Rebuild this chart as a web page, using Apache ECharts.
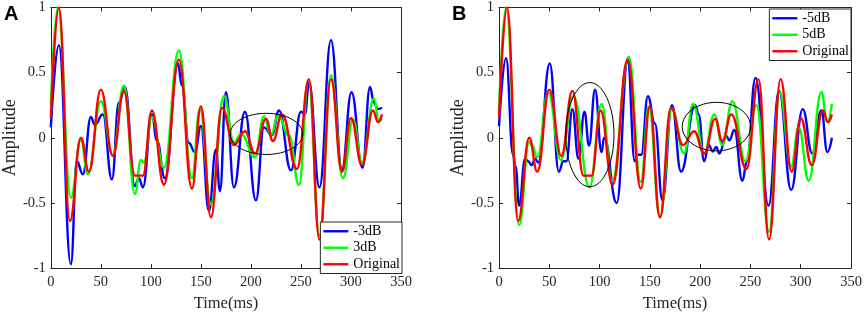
<!DOCTYPE html>
<html>
<head>
<meta charset="utf-8">
<script src="https://cdn.jsdelivr.net/npm/echarts@6/dist/echarts.min.js"></script>
<style>
html, body { margin: 0; padding: 0; background: #fff; }
#main { width: 865px; height: 317px; }
</style>
</head>
<body>
<div id="main"></div>
<script>
// [time(ms), amplitude], peaks and troughs
var original = [[0,0.15],[8,1.0],[19,-0.64],[30,0.0],[38,-0.26],[50,0.37],[62,-0.14],[73,0.36],[84,-0.29],[92,-0.29],[101,0.21],[113,-0.36],[128,0.60],[141,-0.39],[150,0.24],[160,-0.61],[171,0.23],[183,-0.055],[194,0.05],[204,-0.12],[215,0.145],[222,-0.025],[231,0.18],[246,-0.24],[258,0.45],[268.5,-0.78],[280,0.45],[291,-0.26],[300,0.15],[311,-0.21],[322,0.21],[327,0.12],[331,0.18]];

var plus3dB = [[0,0.25],[7,1.0],[20,-0.46],[30,-0.02],[37,-0.28],[50,0.28],[62,-0.13],[73,0.40],[84,-0.43],[90,-0.17],[93,-0.19],[101,0.16],[113,-0.23],[128,0.67],[141,-0.31],[149,0.22],[160,-0.51],[173,0.32],[183,-0.035],[190,0.03],[204,-0.15],[213,0.165],[220,0.02],[227,0.17],[238,0.02],[248,-0.36],[257.5,0.44],[268.5,-0.75],[280,0.48],[292,-0.31],[302,0.14],[311,-0.19],[323,0.30],[328,0.125],[331,0.145]];

var minus3dB = [[0,0.08],[8,0.71],[20,-0.97],[26,-0.18],[32,-0.28],[40,0.16],[44,0.1],[52,0.18],[61,-0.32],[68,0.27],[74,0.39],[84,-0.37],[88,-0.31],[92,-0.38],[101,0.18],[106,-0.02],[114,-0.31],[127,0.57],[131,0.40],[138,-0.04],[144,-0.11],[150,0.09],[158,-0.56],[165,-0.09],[169,-0.41],[175,0.35],[183,-0.38],[194,0.2],[205,-0.48],[213,0.08],[221,0.02],[228,0.21],[240,-0.25],[250,0.2],[254,0.18],[258,0.42],[268.5,-0.38],[280,0.75],[291,-0.24],[300.5,0.35],[311.5,-0.23],[319,0.39],[323,0.27],[327,0.22],[331,0.23]];

var plus5dB = [[0,0.2],[7,1.0],[20,-0.67],[30,-0.03],[33,-0.06],[38,-0.15],[49,0.35],[61.5,-0.17],[74,0.32],[90,-0.38],[102,0.26],[112.5,-0.33],[129,0.62],[141,-0.34],[149,0.24],[160,-0.61],[172,0.22],[184,-0.12],[193,0.26],[204,-0.12],[214,0.18],[222,-0.055],[232,0.28],[245,-0.18],[256,0.25],[268.5,-0.72],[279,0.35],[290.5,-0.22],[298,0.08],[308,-0.33],[320.5,0.35],[326.5,0.125],[331,0.26]];

var minus5dB = [[0,0.09],[7,0.61],[14,-0.13],[16.5,-0.22],[20,-0.52],[26,-0.16],[29,-0.18],[32.5,-0.21],[36,-0.16],[39,-0.19],[50.5,0.57],[59.5,-0.26],[64,-0.18],[67,-0.18],[73,0.22],[79,-0.16],[85,0.2],[89.5,-0.06],[95.5,0.37],[102,-0.11],[104.5,0.0],[117,-0.5],[128,0.585],[135,-0.18],[138,-0.13],[141.5,-0.13],[148,0.32],[155,0.11],[162.5,-0.48],[172,0.25],[181,-0.26],[195,0.25],[198.5,0.18],[204,-0.18],[208.5,-0.055],[212.5,-0.105],[216,-0.07],[219,-0.12],[226,0.015],[229,-0.02],[234,0.06],[242,-0.33],[246.5,-0.18],[255,0.46],[268,-0.52],[278.5,0.36],[290.5,-0.4],[302,0.22],[311.5,-0.12],[320.5,0.21],[326.5,-0.11],[331,0.0]];

// ellipses: [centre time, centre amplitude, half width (ms), half height]
var ellipsesA = [[215.5,0.03,36.3,0.158]];
var ellipsesB = [[90.3,0.024,24,0.40],[216.2,0.086,34,0.186]];

var serif = 'Liberation Serif';
var axisColor = '#262626';

function xAxisPair(g) {
    return [{
        type: 'value', gridIndex: g, min: 0, max: 350, interval: 50,
        axisLine: { onZero: false, lineStyle: { color: axisColor } },
        axisTick: { inside: true, length: 4, lineStyle: { color: axisColor } },
        axisLabel: { margin: 7, color: axisColor, fontFamily: serif, fontSize: 14.5 },
        splitLine: { show: false },
        name: 'Time(ms)', nameLocation: 'middle', nameGap: 23,
        nameTextStyle: { color: axisColor, fontFamily: serif, fontSize: 16.5 }
    }, {
        type: 'value', gridIndex: g, position: 'top', min: 0, max: 350, interval: 50,
        axisLine: { onZero: false, lineStyle: { color: axisColor } },
        axisTick: { inside: true, length: 4, lineStyle: { color: axisColor } },
        axisLabel: { show: false },
        splitLine: { show: false }
    }];
}

function yAxisPair(g) {
    return [{
        type: 'value', gridIndex: g, min: -1, max: 1, interval: 0.5,
        axisLine: { show: true, onZero: false, lineStyle: { color: axisColor } },
        axisTick: { show: true, inside: true, length: 4, lineStyle: { color: axisColor } },
        axisLabel: { margin: 5, color: axisColor, fontFamily: serif, fontSize: 14.5 },
        splitLine: { show: false },
        name: 'Amplitude', nameLocation: 'middle', nameGap: 30,
        nameTextStyle: { color: axisColor, fontFamily: serif, fontSize: 18 }
    }, {
        type: 'value', gridIndex: g, position: 'right', min: -1, max: 1, interval: 0.5,
        axisLine: { show: true, onZero: false, lineStyle: { color: axisColor } },
        axisTick: { show: true, inside: true, length: 4, lineStyle: { color: axisColor } },
        axisLabel: { show: false },
        splitLine: { show: false }
    }];
}

function line(name, data, color, axis) {
    return {
        name: name, type: 'line', data: data,
        xAxisIndex: axis, yAxisIndex: axis,
        symbol: 'none', smooth: 0.45, smoothMonotone: 'x',
        lineStyle: { color: color, width: 2.4 }, itemStyle: { color: color },
        animation: false
    };
}

function renderEllipse(params, api) {
    var c = api.coord([api.value(0), api.value(1)]);
    var s = api.size([api.value(2), api.value(3)]);
    return {
        type: 'ellipse',
        shape: { cx: c[0], cy: c[1], rx: s[0], ry: s[1] },
        style: { fill: null, stroke: '#000', lineWidth: 1 }
    };
}

function ellipses(data, axis) {
    return {
        type: 'custom', data: data, xAxisIndex: axis, yAxisIndex: axis,
        renderItem: renderEllipse, silent: true, z: 5, animation: false
    };
}

function legendBox(names, right, top) {
    return {
        data: names, orient: 'vertical', right: right, top: top,
        icon: 'rect', itemWidth: 25, itemHeight: 2.4, itemGap: 0,
        padding: [1, 2, 1, 3],
        borderColor: axisColor, borderWidth: 1, borderRadius: 0,
        backgroundColor: '#fff',
        textStyle: { fontFamily: serif, fontSize: 14, lineHeight: 16.5, color: '#000' }
    };
}

var myChart = echarts.init(document.getElementById('main'));
option = {
    backgroundColor: '#fff',
    animation: false,
    grid: [
        { left: 49, top: 6, width: 352, height: 267 },
        { left: 499, top: 6, width: 352, height: 267 }
    ],
    xAxis: xAxisPair(0).concat(xAxisPair(1)),
    yAxis: yAxisPair(0).concat(yAxisPair(1)),
    legend: [
        legendBox(['-3dB', '3dB', 'Original'], 463, 222),
        legendBox(['-5dB', '5dB', 'Original'], 14, 9)
    ],
    graphic: [
        { type: 'text', left: 4, top: 4, style: { text: 'A', font: 'bold 20px "Liberation Sans"', fill: '#000' } },
        { type: 'text', left: 452, top: 4, style: { text: 'B', font: 'bold 20px "Liberation Sans"', fill: '#000' } }
    ],
    series: [
        line('-3dB', minus3dB, '#0000ff', 0),
        line('3dB', plus3dB, '#00ff00', 0),
        line('Original', original, '#ff0000', 0),
        ellipses(ellipsesA, 0),
        line('-5dB', minus5dB, '#0000ff', 2),
        line('5dB', plus5dB, '#00ff00', 2),
        line('Original', original, '#ff0000', 2),
        ellipses(ellipsesB, 2)
    ]
};
myChart.setOption(option);
</script>
</body>
</html>
